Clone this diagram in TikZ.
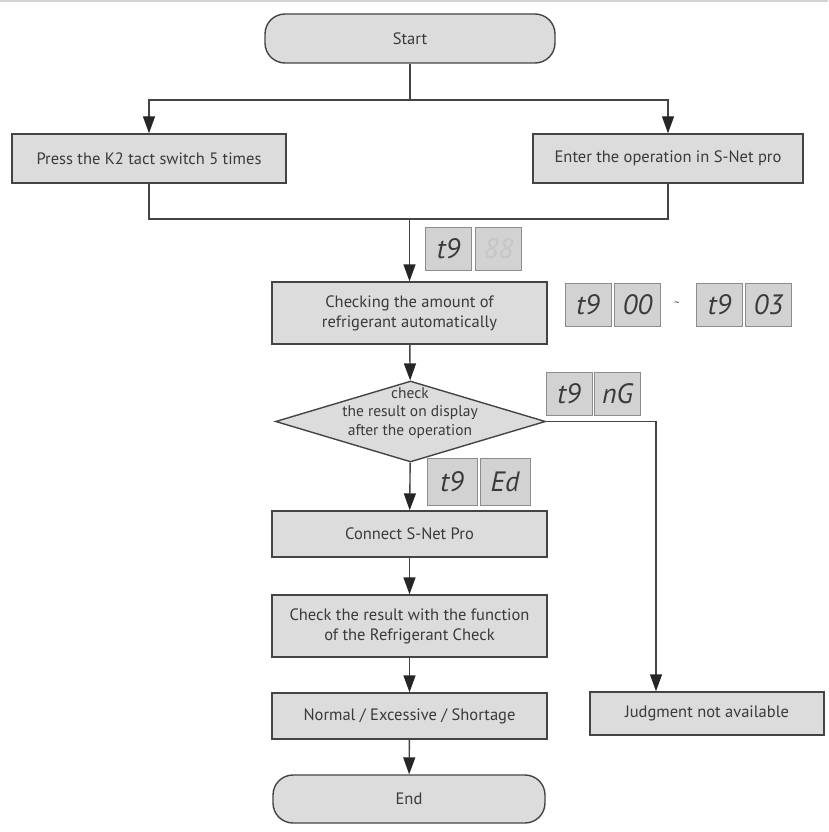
\documentclass[tikz,border=0pt]{standalone}
\usepackage{fontspec}
\setmainfont{PT Sans}
\usetikzlibrary{shapes.geometric,arrows.meta}

\definecolor{boxfill}{HTML}{DCDCDC}
\definecolor{boxline}{HTML}{444444}
\definecolor{segfill}{HTML}{D2D2D2}
\definecolor{segline}{HTML}{8C8C8C}
\definecolor{inkgray}{HTML}{3A3A3A}

\begin{document}
\begin{tikzpicture}[x=1pt,y=-1pt,
        every node/.style={font=\fontsize{16.5}{20}\selectfont, text=inkgray},
        flowbox/.style={draw=boxline, fill=boxfill, line width=1.4pt, inner sep=0pt,
            align=center, minimum width=275pt},
        termbox/.style={flowbox, rounded corners=20pt},
        segbox/.style={draw=segline, fill=segfill, line width=1pt, inner sep=0pt,
            minimum width=46pt, minimum height=43pt,
            font=\fontsize{28}{28}\selectfont\itshape},
        wire/.style={draw=boxline, line width=1.4pt},
        arr/.style={wire, -{Triangle[length=17pt,width=12pt,color=black!85]}}]
    \useasboundingbox (0,0) rectangle (828,832);
    \draw[gray!35, line width=2pt] (0,1) -- (828,1);

    % flow
    \node[termbox, minimum width=290pt, minimum height=49pt] (start) at (410,38.5) {Start};
    \node[flowbox, minimum width=274pt, minimum height=49pt] (press) at (149,158.5)
        {Press the K2 tact switch 5 times};
    \node[flowbox, minimum width=270pt, minimum height=49pt] (enter) at (668,158.5)
        {Enter the operation in S-Net pro};
    \node[flowbox, minimum height=62pt] (check) at (409.5,313)
        {Checking the amount of\\refrigerant automatically};
    \node[diamond, draw=boxline, fill=boxfill, line width=1.4pt, inner sep=0pt,
        minimum width=270pt, minimum height=81pt] (decide) at (410.5,421.5) {};
    \node[align=center, font=\fontsize{15.5}{18.5}\selectfont] (decidetext) at (410,413)
        {check\\the result on display\\after the operation};
    \node[flowbox, minimum height=46pt] (connect) at (409.5,534) {Connect S-Net Pro};
    \node[flowbox, minimum height=62pt] (result) at (409.5,626)
        {Check the result with the function\\of the Refrigerant Check};
    \node[flowbox, minimum height=46pt] (outcome) at (409.5,716)
        {Normal / Excessive / Shortage};
    \node[termbox, minimum width=272pt, minimum height=48pt] (finish) at (409,799) {End};
    \node[flowbox, minimum width=234pt, minimum height=43pt] (judge) at (707,713.5)
        {Judgment not available};

    % displays
    \node[segbox] (idleA) at (448.5,248.5) {t9};
    \node[segbox, text=segline!50] (idleB) at (498.5,248.5) {88};
    \node[segbox] (runA) at (588,304.5) {t9};
    \node[segbox] (runB) at (637.5,304.5) {00};
    \node[font=\fontsize{11}{11}\selectfont] (runTo) at (677,304) {\textasciitilde};
    \node[segbox] (runC) at (719.5,304.5) {t9};
    \node[segbox] (runD) at (768.5,304.5) {03};
    \node[segbox] (ngA) at (569,393.5) {t9};
    \node[segbox] (ngB) at (617.5,393.5) {nG};
    \node[segbox, minimum width=50pt, minimum height=47pt] (edA) at (452,481.5) {t9};
    \node[segbox, minimum width=50pt, minimum height=47pt] (edB) at (505,481.5) {Ed};

    % connectors
    \coordinate (split) at (410,100);
    \coordinate (join) at (409.5,219);
    \coordinate (turn) at (656,421.5);
    \draw[wire] (start) -- (split);
    \draw[arr] (split) -| (press);
    \draw[arr] (split) -| (enter);
    \draw[wire] (press) |- (join);
    \draw[wire] (enter) |- (join);
    \draw[arr] (join) -- (check);
    \draw[arr] (check) -- (decide);
    \draw[arr] (decide) -- (connect);
    \draw[arr] (connect) -- (result);
    \draw[arr] (result) -- (outcome);
    \draw[arr] (outcome) -- (finish);
    \draw[arr] (decide.east) -- (turn) -- (turn |- judge.north);
\end{tikzpicture}
\end{document}
